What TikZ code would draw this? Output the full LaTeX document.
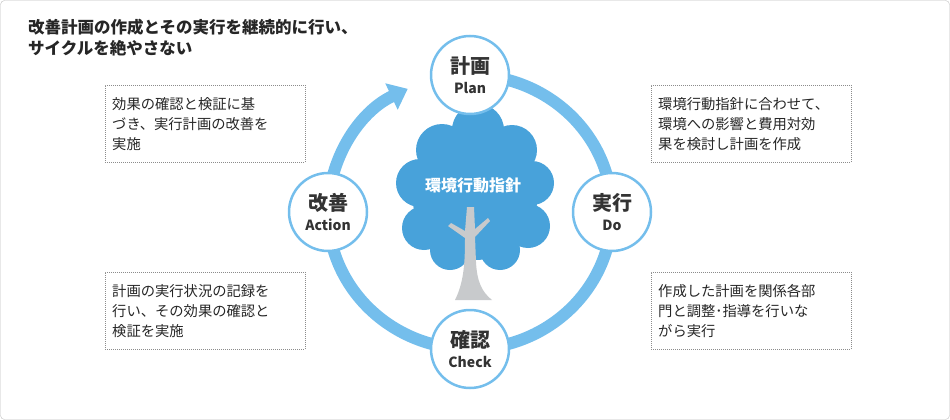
\documentclass[tikz,border=0pt]{standalone}
\usepackage{fontspec}
\setmainfont{Noto Sans CJK JP}
\usetikzlibrary{arrows.meta}
\definecolor{ring}{RGB}{116,190,236}
\definecolor{cloud}{RGB}{72,162,218}
\definecolor{trunk}{RGB}{200,202,204}
\tikzset{
 st/.style={circle,draw=ring,line width=2.5pt,fill=white,minimum size=78pt,inner sep=0pt,align=center,font=\fontsize{20}{22}\selectfont\bfseries,text=black!80},
 box/.style={draw=black!45,dash pattern=on 1pt off 1pt,minimum width=200pt,minimum height=77pt,text width=186pt,align=left,font=\fontsize{14.3}{20}\selectfont,text=black!85,inner sep=7pt}
}
\begin{document}
\begin{tikzpicture}[x=1pt,y=-1pt]
\useasboundingbox (0,0) rectangle (950,420);
\draw[black!25,rounded corners=4pt] (0.5,0.5) rectangle (949.5,419.5);
\node[anchor=north west,align=left,font=\fontsize{16.5}{21}\selectfont\bfseries,text=black!85,inner sep=0pt] (title) at (28,19) {改善計画の作成とその実行を継続的に行い、\\サイクルを絶やさない};
% ring
\draw[ring,line width=12pt] (470,75) arc[start angle=90,end angle=-180,x radius=142,y radius=-137];
\draw[ring,line width=12pt,-{Triangle[width=28pt,length=18pt]}] (328,212) arc[start angle=180,end angle=116,x radius=142,y radius=-137];
% tree
\fill[cloud] (478,130) circle (26) (442,150) circle (26) (512,150) circle (25) (420,183) circle (24) (532,183) circle (22) (424,228) circle (22) (528,226) circle (22) (450,250) circle (20) (500,250) circle (20) (475,200) ellipse (62 and 60);
\fill[trunk] (455,300) .. controls (464,282) and (465,262) .. (465,238) -- (448,226) -- (451,223) -- (465,231) -- (467,207) -- (474,207) -- (475,229) -- (488,218) -- (490,221) -- (475,237) -- (476,262) .. controls (477,282) and (482,292) .. (492,300) -- cycle;
\node[font=\fontsize{16}{18}\selectfont\bfseries,text=white] (core) at (473,185) {環境行動指針};
% stations
\node[st] (plan) at (470,75) {計画\\[-2pt]{\fontsize{14}{16}\selectfont Plan}};
\node[st] (do) at (612,212) {実行\\[-2pt]{\fontsize{14}{16}\selectfont Do}};
\node[st] (check) at (470,349) {確認\\[-2pt]{\fontsize{14}{16}\selectfont Check}};
\node[st] (act) at (328,212) {改善\\[-2pt]{\fontsize{14}{16}\selectfont Action}};
% boxes
\node[box,anchor=north west] (b1) at (105,85) {効果の確認と検証に基\\づき、実行計画の改善を\\実施};
\node[box,anchor=north west] (b2) at (651,85) {環境行動指針に合わせて、\\環境への影響と費用対効\\果を検討し計画を作成};
\node[box,anchor=north west] (b3) at (105,272) {計画の実行状況の記録を\\行い、その効果の確認と\\検証を実施};
\node[box,anchor=north west] (b4) at (651,272) {作成した計画を関係各部\\門と調整･指導を行いな\\がら実行};
\end{tikzpicture}
\end{document}
